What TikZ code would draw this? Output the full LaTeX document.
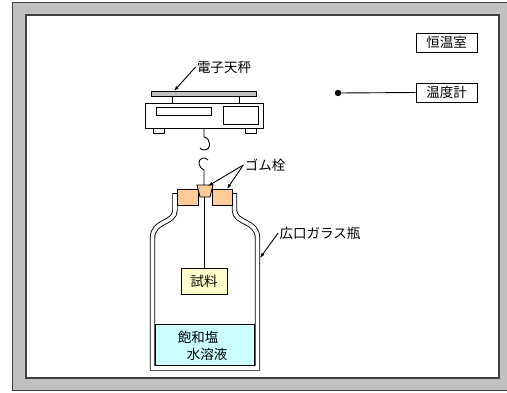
\documentclass[tikz,border=0pt]{standalone}
\usepackage{fontspec}
\setmainfont{Noto Sans CJK JP}
\usetikzlibrary{arrows.meta}
\definecolor{framegray}{HTML}{C0C0C0}
\definecolor{framedark}{HTML}{404040}
\definecolor{cork}{HTML}{FFCC99}
\definecolor{brine}{HTML}{CCFFFF}
\definecolor{sampleyellow}{HTML}{FFFFCC}
\begin{document}
\begin{tikzpicture}[x=1pt,y=-1pt,line width=0.9pt]

    \tikzset{
      tag/.style={
        anchor=center,
        inner sep=1pt,
        font=\fontsize{13.5}{15}\selectfont,
      },
      tagbox/.style={
        tag,
        draw,
        fill=white,
        minimum width=61pt,
        minimum height=19pt,
      },
      pointer/.style={
        -{Latex[length=5pt,width=3.5pt]},
      },
      wall/.style={
        draw=black,
        double=white,
        double distance=3.6pt,
        line width=0.9pt,
      },
    }
    \useasboundingbox (0,0) rectangle (507,392);
    \clip (0,0) rectangle (507,392);
	\draw[color={framedark},fill={framegray},line width=1pt] (12,2) rectangle (520,390);
	\draw[color={framedark},fill={white},line width=1.6pt] (26,15) rectangle (499,378);
	% balance
	\draw[fill={framegray}] (151,91) rectangle (256,96);
	\draw (172,96)--(172,103);
	\draw (239,96)--(239,103);
	\draw[fill={white}] (153,128) rectangle (164,133);
	\draw[fill={white}] (245,128) rectangle (256,133);
	\draw[fill={white}] (145,103) rectangle (263,128);
	\draw[fill={white}] (156,107) rectangle (211,115);
	\draw[fill={white}] (223,106) rectangle (258,124);
	% hooks
	\draw (204,128)--(204,137) .. controls (211,138) and (212,150) .. (204,150) .. controls (202,150) and (201,149) .. (200,148);
	\draw (208,160) .. controls (205,156) and (198,158) .. (199,164) .. controls (199,167) and (202,169) .. (204,170)--(204,185);
	% bottle
	\draw[fill={brine}] (155.5,324) rectangle (254.5,365.5);
	\draw[wall] (175,193)--(175,210) .. controls (175,224) and (152.5,220) .. (152.5,238)--(152.5,368)--(257.5,368)--(257.5,238) .. controls (257.5,220) and (234.5,224) .. (234.5,210)--(234.5,193);
	\draw (173,193)--(177,193);
	\draw (232.5,193)--(236.5,193);
	\draw [color={black}] (198,337) node[tag] (salt) {飽和塩};
	\draw [color={black}] (207,354) node[tag] (water) {水溶液};
	% stoppers
	\draw[fill={cork}] (177,189) rectangle (198,205);
	\draw[fill={cork}] (212,189) rectangle (232,205);
	\draw[fill={cork}] (197,185)--(213,185)--(210,197)--(200,197)--cycle;
	\coordinate (plug) at (204,197);
	\coordinate (plugtop) at (208,186);
	\coordinate (corktop) at (227,189);
	\coordinate (pan) at (174,91);
	\coordinate (glass) at (260,258);
	\draw [color={black}] (204,281) node[tag,draw,fill={sampleyellow},minimum width=46pt,minimum height=26pt] (sample) {試料};
	\draw (plug)--(sample.north);
	% labels
	\draw [color={black}] (224,67) node[tag] (scale) {電子天秤};
	\draw [color={black}] (265,165) node[tag] (rubber) {ゴム栓};
	\draw [color={black}] (320,233) node[tag] (jar) {広口ガラス瓶};
	\draw [color={black}] (446.5,42.5) node[tagbox] (room) {恒温室};
	\draw [color={black}] (446.5,92.5) node[tagbox] (thermo) {温度計};
	\draw[pointer] (scale.west)--(pan);
	\draw[pointer] (rubber.west)--(plugtop);
	\draw[pointer] (rubber.west)--(corktop);
	\draw[pointer] (jar.west)--(glass);
	\fill (338,93) circle (3.2pt) coordinate (probe);
	\draw (probe)--(thermo.west);

\end{tikzpicture}
\end{document}
